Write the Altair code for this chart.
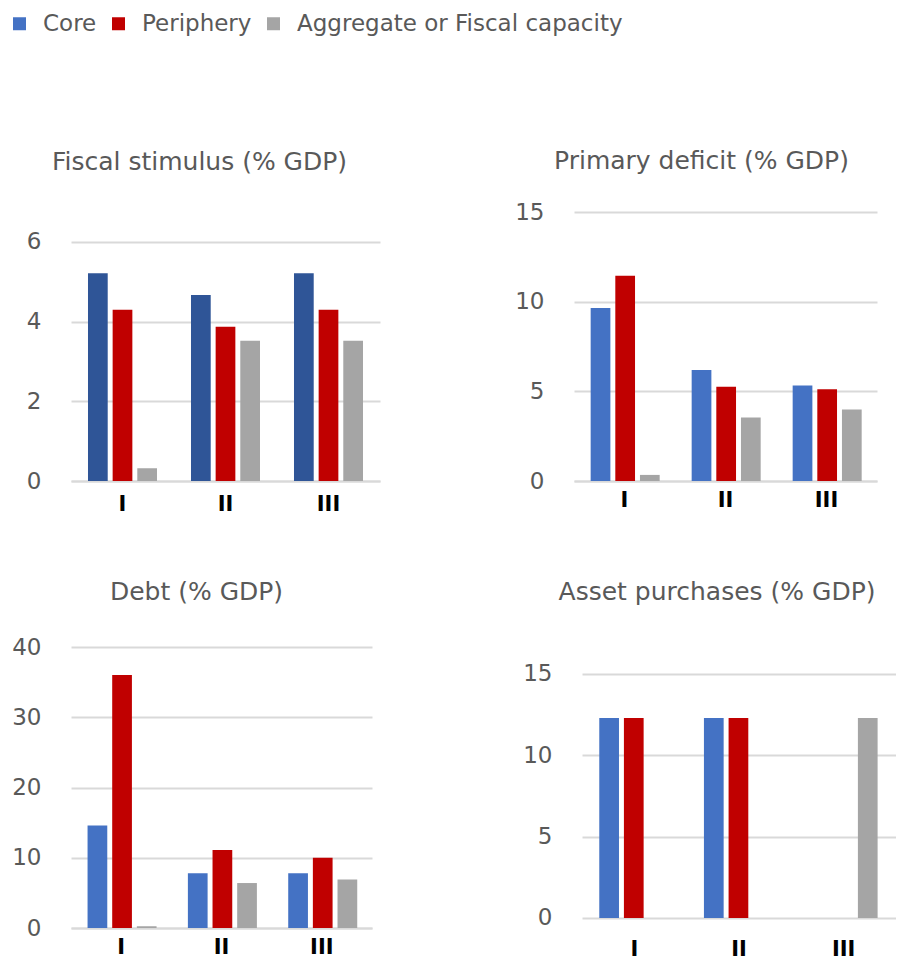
import altair as alt
import pandas as pd

scenarios = ["I", "II", "III"]
groups = ["Core", "Periphery", "Aggregate or Fiscal capacity"]

fiscal_core = [5.21, 4.67, 5.21]
fiscal_periphery = [4.30, 3.87, 4.30]
fiscal_aggregate = [0.32, 3.52, 3.52]

deficit_core = [9.64, 6.19, 5.33]
deficit_periphery = [11.44, 5.25, 5.12]
deficit_aggregate = [0.34, 3.54, 3.99]

debt_core = [14.6, 7.8, 7.8]
debt_periphery = [36.0, 11.1, 10.0]
debt_aggregate = [0.25, 6.4, 6.9]

asset_core = [12.3, 12.3, 0]
asset_periphery = [12.3, 12.3, 0]
asset_aggregate = [0, 0, 12.3]

BLUE = "#4472C4"
DARK_BLUE = "#2F5597"
RED = "#C00000"
GRAY = "#A5A5A5"
FONT = "DejaVu Sans"
TEXT = "#595959"


def make_df(core, per, agg, core_color):
    rows = []
    for vals, g, c in [(core, groups[0], core_color), (per, groups[1], RED), (agg, groups[2], GRAY)]:
        for s, v in zip(scenarios, vals):
            rows.append({"Scenario": s, "Group": g, "Value": v, "Color": c})
    return pd.DataFrame(rows)


def panel(df, title, ydomain, yvals, w, h, title_offset, title_dx, min_extent, xpad,
          own_color=False, xdomain=True):
    if own_color:
        color = alt.Color("Color:N", scale=None)
    else:
        color = alt.Color(
            "Group:N",
            title=None,
            scale=alt.Scale(domain=groups, range=[BLUE, RED, GRAY]),
        )
    return (
        alt.Chart(df)
        .mark_bar()
        .encode(
            x=alt.X(
                "Scenario:N",
                sort=scenarios,
                scale=alt.Scale(paddingInner=0.33, paddingOuter=0.165),
                axis=alt.Axis(
                    title=None, labelAngle=0, ticks=False, domain=xdomain,
                    domainColor="#D9D9D9", domainWidth=2, labelColor="black",
                    labelFontSize=21, labelFontWeight="bold",
                    labelPadding=xpad, grid=False,
                ),
            ),
            xOffset=alt.XOffset("Group:N", sort=groups,
                                scale=alt.Scale(domain=groups, paddingInner=0.2)),
            y=alt.Y(
                "Value:Q",
                scale=alt.Scale(domain=ydomain, nice=False, zero=False),
                axis=alt.Axis(
                    title=None, values=yvals, ticks=False, domain=False,
                    gridColor="#D9D9D9", gridWidth=2, labelColor=TEXT,
                    labelFontSize=23, labelPadding=30, minExtent=min_extent,
                ),
            ),
            color=color,
        )
        .properties(
            width=w, height=h,
            title=alt.TitleParams(title, offset=title_offset, dx=title_dx),
        )
    )


p1 = panel(make_df(fiscal_core, fiscal_periphery, fiscal_aggregate, DARK_BLUE),
           "Fiscal stimulus (% GDP)", [0, 6.75], [0, 2, 4, 6], 309, 269, 37, -26, 57, 12,
           own_color=True)
p2 = panel(make_df(deficit_core, deficit_periphery, deficit_aggregate, BLUE),
           "Primary deficit (% GDP)", [0, 15], [0, 5, 10, 15], 303, 269, 27, -24, 60, 8)
p3 = panel(make_df(debt_core, debt_periphery, debt_aggregate, BLUE),
           "Debt (% GDP)", [0, 40], [0, 10, 20, 30, 40], 301, 281, 31, -25, 61, 8)
p4 = panel(make_df(asset_core, asset_periphery, asset_aggregate, BLUE),
           "Asset purchases (% GDP)", [-0.62, 16.66], [0, 5, 10, 15], 314, 281, 42, -22, 60, 10,
           xdomain=False)

row1 = alt.hconcat(p1, p2, spacing=134)
row2 = alt.hconcat(p3, p4, spacing=150)

chart = (
    alt.vconcat(row1, row2, spacing=66)
    .properties(padding={"left": 0, "top": 4, "right": 0, "bottom": 0})
    .configure_view(stroke=None)
    .configure_title(font=FONT, fontSize=25, color=TEXT, fontWeight="normal", anchor="middle")
    .configure_axis(labelFont=FONT)
    .configure_legend(
        orient="none", legendX=-63, legendY=-200, direction="horizontal",
        labelFont=FONT, labelFontSize=23, labelColor=TEXT, symbolType="square",
        symbolSize=169, symbolStrokeWidth=0, labelOffset=12, columnPadding=10,
        padding=0, labelLimit=500,
    )
)

chart.save("out.html", embed_options={"renderer": "svg", "actions": False})
